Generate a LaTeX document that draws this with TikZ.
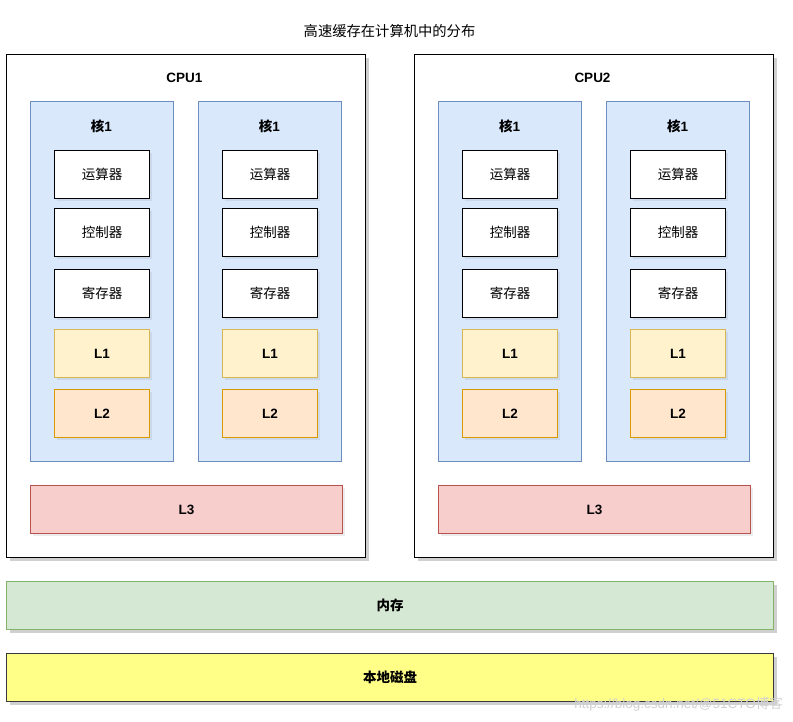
\documentclass[tikz,border=0pt]{standalone}
\usepackage{fontspec}
\setmainfont{Liberation Sans}
\newfontfamily\cjk{Noto Sans CJK SC}
\usetikzlibrary{shadows}
\definecolor{coreFill}{HTML}{DAE8FC}
\definecolor{coreDraw}{HTML}{6C8EBF}
\definecolor{lOneFill}{HTML}{FFF2CC}
\definecolor{lOneDraw}{HTML}{D6B656}
\definecolor{lTwoFill}{HTML}{FFE6CC}
\definecolor{lTwoDraw}{HTML}{D79B00}
\definecolor{lThreeFill}{HTML}{F8CECC}
\definecolor{lThreeDraw}{HTML}{B85450}
\definecolor{memFill}{HTML}{D5E8D4}
\definecolor{memDraw}{HTML}{82B366}
\definecolor{diskFill}{HTML}{FFFF88}
\definecolor{diskDraw}{HTML}{36393D}
\tikzset{
  shd/.style={drop shadow={shadow xshift=3pt, shadow yshift=-3pt, opacity=0.3, fill=black!60}},
  lightshd/.style={drop shadow={shadow xshift=2pt, shadow yshift=-2pt, opacity=0.12, fill=black!60}},
  boxbase/.style={rectangle, anchor=north west, inner sep=0pt, line width=1pt,
    font=\fontsize{13.5}{15}\selectfont},
  cpubox/.style={boxbase, draw=black, fill=white, shd, minimum width=359pt, minimum height=503pt},
  corebox/.style={boxbase, draw=coreDraw, fill=coreFill, minimum width=143pt, minimum height=360pt},
  unitbox/.style={boxbase, draw=black, fill=white, lightshd, minimum width=95pt, minimum height=48pt},
  lonebox/.style={unitbox, draw=lOneDraw, fill=lOneFill, font=\fontsize{13.5}{15}\selectfont\bfseries},
  ltwobox/.style={unitbox, draw=lTwoDraw, fill=lTwoFill, font=\fontsize{13.5}{15}\selectfont\bfseries},
  lthreebox/.style={boxbase, draw=lThreeDraw, fill=lThreeFill, lightshd, minimum width=312pt, minimum height=48pt, font=\fontsize{13.5}{15}\selectfont\bfseries},
  membox/.style={boxbase, draw=memDraw, fill=memFill, shd, minimum width=767pt, minimum height=48pt, font=\fontsize{13.5}{15}\selectfont\bfseries},
  diskbox/.style={boxbase, draw=diskDraw, fill=diskFill, shd, minimum width=767pt, minimum height=48pt, font=\fontsize{13.5}{15}\selectfont\bfseries},
  lab/.style={inner sep=0pt, font=\fontsize{13.5}{15}\selectfont\bfseries},
  titlelab/.style={inner sep=0pt, font=\fontsize{14.3}{16}\selectfont},
  wmark/.style={inner sep=0pt, anchor=east, text=black!18, font=\fontsize{13.5}{15}\selectfont},
}
\begin{document}
\begin{tikzpicture}[x=1pt,y=-1pt]
\useasboundingbox (0,0) rectangle (793,721);
\fill[white] (0,0) rectangle (793,721);
\node[titlelab] (title) at (389.5,31) {\cjk 高速缓存在计算机中的分布};
\foreach \c/\cx/\cname in {1/6/CPU1, 2/414/CPU2} {
  \node[cpubox] (cpu\c) at (\cx,54) {};
  \node[lab] (cpu\c lab) at ({\cx+178.5},78) {\cname};
  \foreach \k/\kx in {a/24, b/192} {
    \node[corebox] (core\c\k) at ({\cx+\kx},101) {};
    \node[lab] (core\c\k lab) at ({\cx+\kx+71.5},126) {{\cjk\bfseries 核}1};
    \node[unitbox] (alu\c\k) at ({\cx+\kx+24},150) {\cjk 运算器};
    \node[unitbox] (ctl\c\k) at ({\cx+\kx+24},208) {\cjk 控制器};
    \node[unitbox] (reg\c\k) at ({\cx+\kx+24},269) {\cjk 寄存器};
    \node[lonebox] (lone\c\k) at ({\cx+\kx+24},329) {L1};
    \node[ltwobox] (ltwo\c\k) at ({\cx+\kx+24},389) {L2};
  }
  \node[lthreebox] (lthree\c) at ({\cx+24},485) {L3};
}
\node[membox] (mem) at (6,581) {\cjk\bfseries 内存};
\node[diskbox] (disk) at (6,653) {\cjk\bfseries 本地磁盘};
\node[wmark] (wm) at (783,704) {https://blog.csdn.net/@51CTO{\cjk 博客}};
\end{tikzpicture}
\end{document}
